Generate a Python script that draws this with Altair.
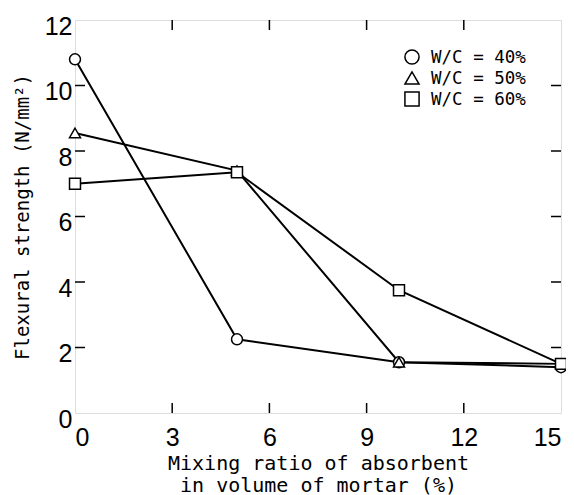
import altair as alt
import pandas as pd

ratio = [0, 5, 10, 15]
series = ["W/C = 40%", "W/C = 50%", "W/C = 60%"]
shapes = ["circle", "triangle-up", "square"]
wc40 = [10.8, 2.25, 1.55, 1.4]
wc50 = [8.55, 7.4, 1.55, 1.5]
wc60 = [7.0, 7.35, 3.75, 1.5]
x_ticks = [0, 3, 6, 9, 12, 15]
y_ticks = [0, 2, 4, 6, 8, 10, 12]
x_inner = [3, 6, 9, 12]
y_inner = [2, 4, 6, 8, 10]

rows = []
for name, vals in zip(series, [wc40, wc50, wc60]):
    for r, v in zip(ratio, vals):
        rows.append({"ratio": r, "strength": v, "series": name})
df = pd.DataFrame(rows)

W, H = 486, 393
TICKFONT = "Liberation Sans, Arial, sans-serif"
MONO = "DejaVu Sans Mono, Liberation Mono, monospace"

xs = alt.Scale(domain=[0, 15], nice=False, zero=True)
ys = alt.Scale(domain=[0, 12], nice=False, zero=True)

xaxis = alt.Axis(values=x_ticks, ticks=False, tickSize=0, domain=False, grid=False,
                 labelFont=TICKFONT, labelFontSize=25, labelPadding=12, labelColor="black",
                 title=["Mixing ratio of absorbent", "in volume of mortar (%)"],
                 titleFont=MONO, titleFontSize=20, titleFontWeight="normal", titleColor="black",
                 titleBaseline="top", titleY=40, titleLineHeight=22)
yaxis = alt.Axis(values=y_ticks, ticks=False, tickSize=0, domain=False, grid=False,
                 labelFont=TICKFONT, labelFontSize=25, labelPadding=3, labelColor="black",
                 labelBaseline="middle", labelOffset=6,
                 title="Flexural strength  (N/mm²)",
                 titleFont=MONO, titleFontSize=19, titleFontWeight="normal", titleColor="black",
                 titleX=-53, titleY=H / 2, titleBaseline="middle", titleAlign="center")

base = alt.Chart(df)
lines = base.mark_line(color="black", strokeWidth=2).encode(
    x=alt.X("ratio:Q", scale=xs, axis=xaxis),
    y=alt.Y("strength:Q", scale=ys, axis=yaxis),
    detail="series:N",
)
points = base.mark_point(filled=True, fill="white", stroke="black", strokeWidth=1.5,
                         size=120, opacity=1).encode(
    x=alt.X("ratio:Q", scale=xs),
    y=alt.Y("strength:Q", scale=ys),
    shape=alt.Shape("series:N", scale=alt.Scale(domain=series, range=shapes), legend=None),
)

xt = pd.DataFrame({"v": x_inner})
yt = pd.DataFrame({"v": y_inner})
tick_b = alt.Chart(xt).mark_rule(color="black", strokeWidth=1.5).encode(
    x=alt.X("v:Q", scale=xs), y=alt.value(H), y2=alt.value(H - 10))
tick_t = alt.Chart(xt).mark_rule(color="black", strokeWidth=1.5).encode(
    x=alt.X("v:Q", scale=xs), y=alt.value(0), y2=alt.value(10))
tick_l = alt.Chart(yt).mark_rule(color="black", strokeWidth=1.5).encode(
    y=alt.Y("v:Q", scale=ys), x=alt.value(0), x2=alt.value(10))
tick_r = alt.Chart(yt).mark_rule(color="black", strokeWidth=1.5).encode(
    y=alt.Y("v:Q", scale=ys), x=alt.value(W), x2=alt.value(W - 10))

legend_layers = []
for i, (name, shp) in enumerate(zip(series, shapes)):
    ldf = pd.DataFrame({"label": [name]})
    ly = 37 + 21 * i
    legend_layers.append(alt.Chart(ldf).mark_point(
        filled=True, fill="white", stroke="black", strokeWidth=1.5, size=200, opacity=1,
        shape=shp).encode(x=alt.value(337), y=alt.value(ly)))
    legend_layers.append(alt.Chart(ldf).mark_text(
        align="left", baseline="middle", font=MONO, fontSize=17.5, color="black").encode(
        text="label:N", x=alt.value(356), y=alt.value(ly + 1)))

chart = alt.layer(lines, tick_b, tick_t, tick_l, tick_r, points, *legend_layers).properties(
    width=W, height=H, autosize="none",
    padding={"left": 67, "top": 12, "right": 5, "bottom": 82},
).configure_view(stroke="black", strokeWidth=2.5).configure(background="white")

chart.save("out.html", embed_options={"renderer": "svg", "actions": False})
